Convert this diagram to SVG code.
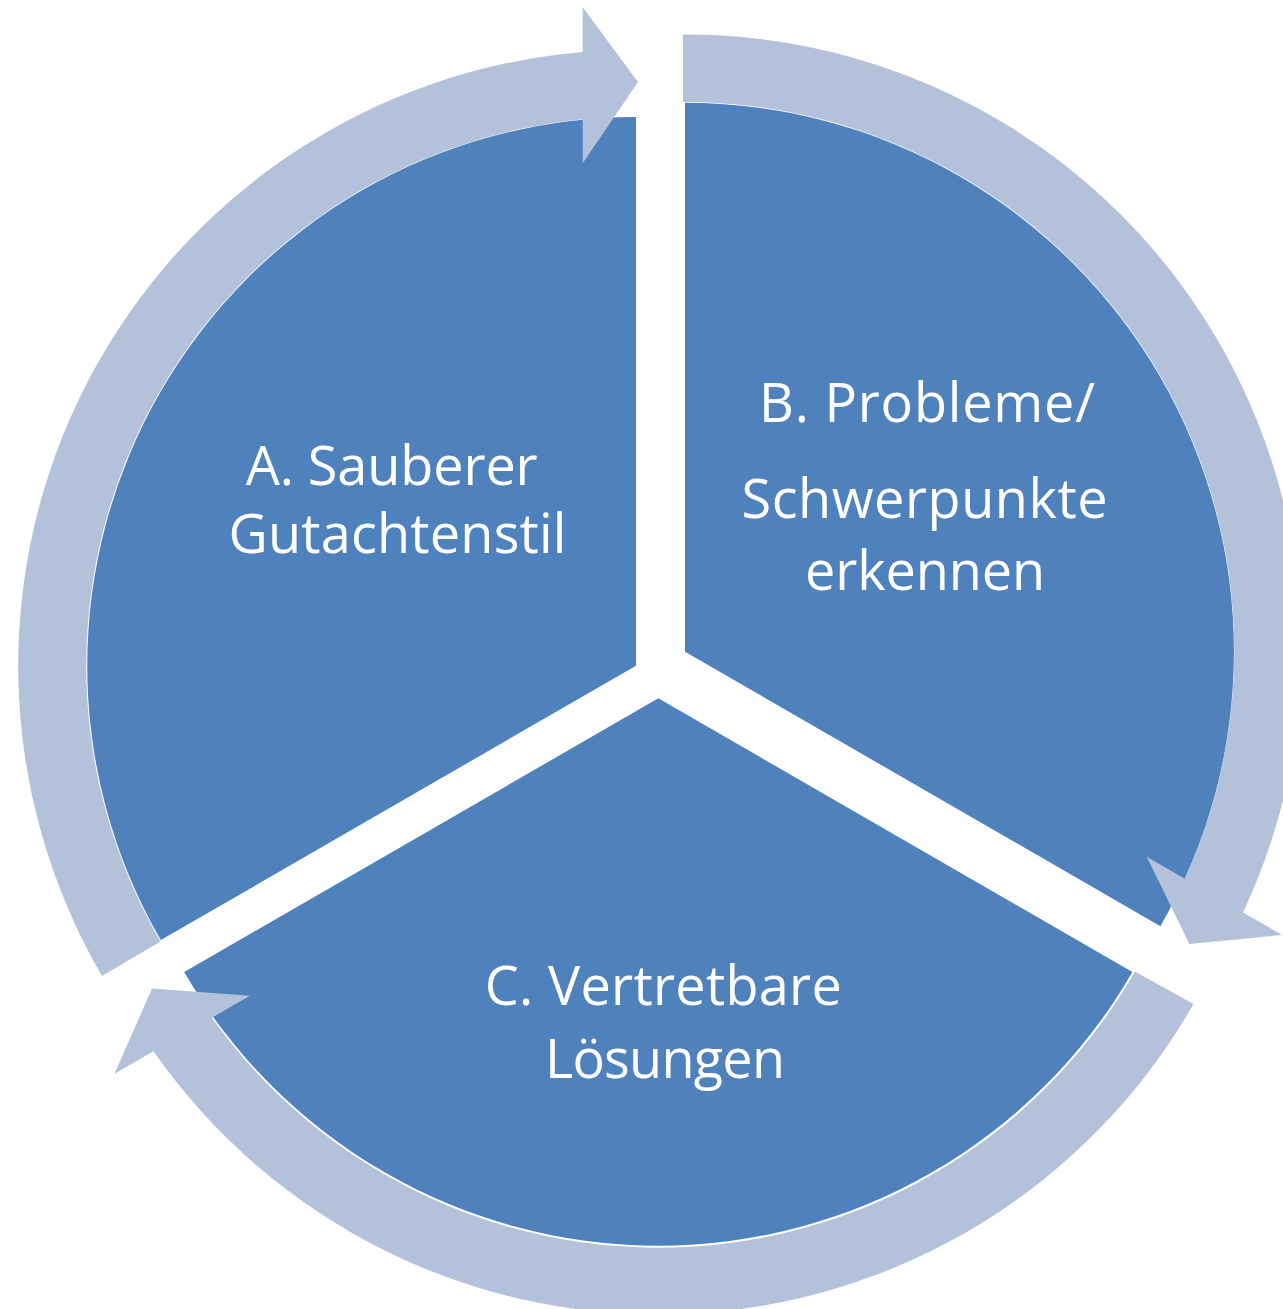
<svg xmlns="http://www.w3.org/2000/svg" width="1283" height="1309" viewBox="0 0 1283 1309">
  <style>
    .seg { fill: #4F81BD; stroke: none; }
    .arrow { fill: #B3C1DB; stroke: none; }
    .lbl { fill: #FFFFFF; font-family: "Open Sans", Lato, "Liberation Sans", sans-serif; font-size: 54px; text-anchor: middle; font-variant-ligatures: none; }
  </style>
  <rect x="0" y="0" width="1283" height="1309" fill="#FFFFFF"/>
  <g id="node-a">
    <path class="seg" d="M 636 665.7 L 636 117 A 548.7 548.7 0 0 0 160.8 940.1 Z"/>
    <text class="lbl" x="391.7" y="485" textLength="292" lengthAdjust="spacing">A. Sauberer</text>
    <text class="lbl" x="397.5" y="553.3" textLength="338" lengthAdjust="spacing">Gutachtenstil</text>
  </g>
  <g id="node-b">
    <path class="seg" d="M 685 651.7 L 685 102.7 A 549 549 0 0 1 1160.4 926.2 Z"/>
    <text class="lbl" x="927" y="422.3" textLength="336" lengthAdjust="spacing">B. Probleme/</text>
    <text class="lbl" x="924.5" y="518.3" textLength="366" lengthAdjust="spacing">Schwerpunkte</text>
    <text class="lbl" x="925" y="590" textLength="240" lengthAdjust="spacing">erkennen</text>
  </g>
  <g id="node-c">
    <path class="seg" d="M 658.3 698.3 L 1132.4 972 A 547.5 547.5 0 0 1 184.2 972 Z"/>
    <text class="lbl" x="663.3" y="1005" textLength="357" lengthAdjust="spacing">C. Vertretbare</text>
    <text class="lbl" x="665" y="1078" textLength="240" lengthAdjust="spacing">Lösungen</text>
  </g>
  <g id="connectors">
    <path id="arrow-a-b" class="arrow" d="M 102 976 A 616 616 0 0 1 582.7 52 L 582.7 7.3 L 638 82 L 582.7 163.3 L 582.7 119.3 A 549 549 0 0 0 160.5 941.5 Z"/>
    <path id="arrow-b-c" class="arrow" d="M 683 34.5 A 616 616 0 0 1 1243.1 912.4 L 1282.1 934.9 L 1189.4 944.1 L 1146.7 856.7 L 1184.8 878.7 A 549 549 0 0 0 683 102 Z"/>
    <path id="arrow-c-a" class="arrow" d="M 1193.5 1004 A 616 616 0 0 1 153.5 1051.3 L 114.5 1073.8 L 152 988.5 L 249.9 995.7 L 211.8 1017.7 A 549 549 0 0 0 1135 971.5 Z"/>
  </g>
</svg>
